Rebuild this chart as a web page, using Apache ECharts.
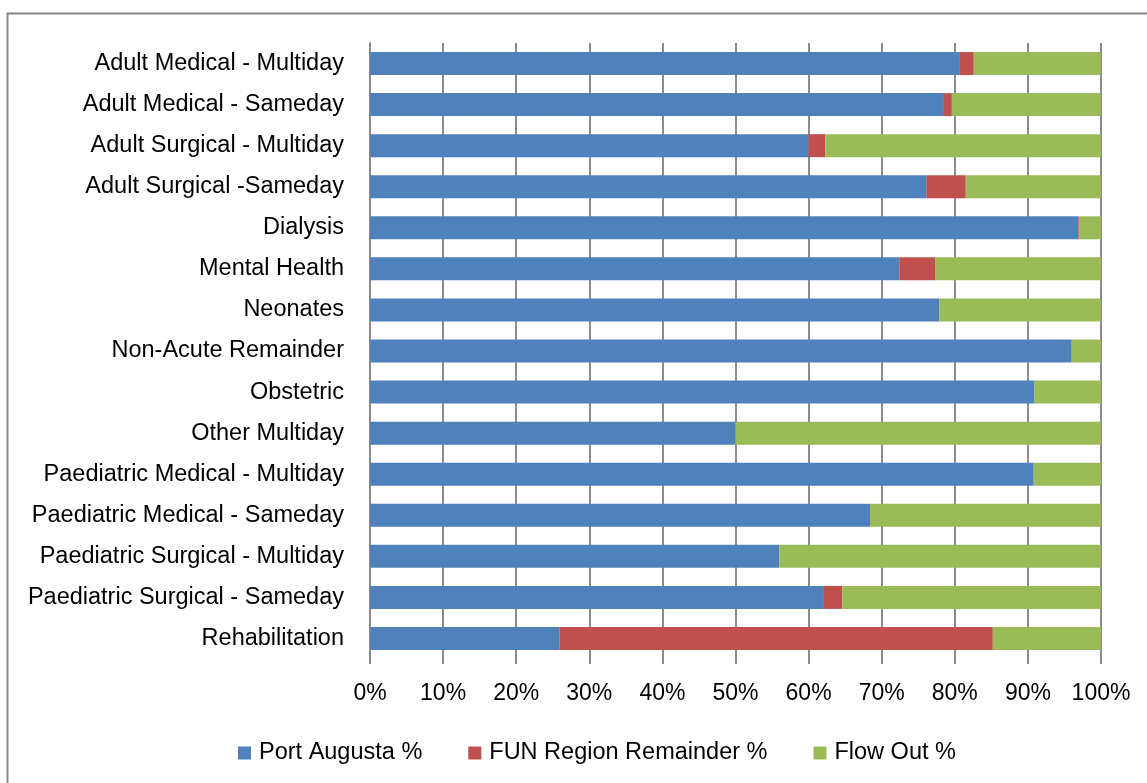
<!DOCTYPE html>
<html>
<head>
<meta charset="utf-8">
<script src="https://cdn.jsdelivr.net/npm/echarts@6/dist/echarts.min.js"></script>
<style>
html,body{margin:0;padding:0;background:#fff;}
#chart{width:1147px;height:783px;}
</style>
</head>
<body>
<div id="chart"></div>
<script>
const categories = [
  'Adult Medical - Multiday',
  'Adult Medical - Sameday',
  'Adult Surgical - Multiday',
  'Adult Surgical -Sameday',
  'Dialysis',
  'Mental Health',
  'Neonates',
  'Non-Acute Remainder',
  'Obstetric',
  'Other Multiday',
  'Paediatric Medical - Multiday',
  'Paediatric Medical - Sameday',
  'Paediatric Surgical - Multiday',
  'Paediatric Surgical - Sameday',
  'Rehabilitation'
];
const portAugusta = [80.7, 78.4, 60.0, 76.1, 96.9, 72.4, 77.9, 96.0, 90.9, 50.0, 90.8, 68.4, 56.0, 62.1, 25.9];
const funRemainder = [1.9, 1.2, 2.3, 5.4, 0.1, 4.9, 0, 0, 0, 0, 0, 0, 0, 2.5, 59.3];
const flowOut = [17.4, 20.4, 37.7, 18.5, 3.0, 22.7, 22.1, 4.0, 9.1, 50.0, 9.2, 31.6, 44.0, 35.4, 14.8];
const seriesNames = ['Port Augusta %', 'FUN Region Remainder %', 'Flow Out %'];
const xTicks = [0, 10, 20, 30, 40, 50, 60, 70, 80, 90, 100];

const FONT = '"Liberation Sans", Arial, sans-serif';
const chart = echarts.init(document.getElementById('chart'));
const mk = (name, data, color) => ({
  name: name, type: 'bar', stack: 'total', data: data,
  barWidth: 23,
  itemStyle: { color: color },
  emphasis: { disabled: true }
});
chart.setOption({
  animation: false,
  textStyle: { fontFamily: FONT },
  graphic: [{
    type: 'polyline',
    shape: { points: [[7.5, 790], [7.5, 13.5], [1150, 13.5]] },
    style: { stroke: '#868686', fill: null, lineWidth: 2 },
    silent: true
  }],
  grid: { left: 370, right: 46, top: 43, bottom: 124, containLabel: false },
  legend: {
    left: 233, top: 736,
    itemWidth: 13, itemHeight: 13, itemGap: 46,
    icon: 'rect',
    textStyle: { fontFamily: FONT, fontSize: 23.5, color: '#000', padding: [0, 0, 0, 3] },
    data: seriesNames
  },
  xAxis: {
    type: 'value', min: xTicks[0], max: xTicks[xTicks.length - 1], interval: 10,
    axisLine: { show: false },
    axisTick: { show: true, length: 5, lineStyle: { color: '#888', width: 2 } },
    splitLine: { show: true, lineStyle: { color: '#8c8c8c', width: 2 } },
    axisLabel: { formatter: '{value}%', fontSize: 23, color: '#000', margin: 23, fontFamily: FONT }
  },
  yAxis: {
    type: 'category', data: categories, inverse: true,
    axisLine: { show: true, lineStyle: { color: '#8c8c8c', width: 2 } },
    axisTick: { show: false },
    axisLabel: { fontSize: 23.5, color: '#000', margin: 26, fontFamily: FONT }
  },
  series: [
    mk(seriesNames[0], portAugusta, '#4F81BD'),
    mk(seriesNames[1], funRemainder, '#C0504D'),
    mk(seriesNames[2], flowOut, '#9BBB59')
  ]
});
</script>
</body>
</html>
